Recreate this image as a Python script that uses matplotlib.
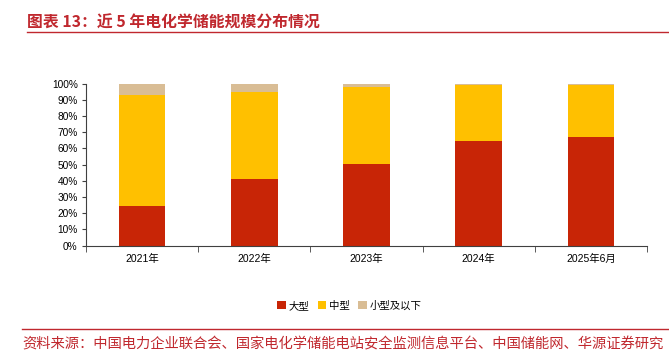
import matplotlib.pyplot as plt
import numpy as np

plt.rcParams['font.family'] = ['Liberation Sans', 'Noto Sans CJK SC', 'DejaVu Sans']

years = ['2021年', '2022年', '2023年', '2024年', '2025年6月']
large = [24.7, 41.2, 50.6, 64.6, 66.9]
medium = [68.1, 53.7, 47.5, 34.4, 32.3]
small = [7.2, 5.1, 1.9, 1.0, 0.8]

c_large = '#C82506'
c_mid = '#FFC000'
c_small = '#D9BD95'
red = '#C0282E'
cjk = ['Noto Sans CJK SC', 'DejaVu Sans']

fig = plt.figure(figsize=(6.69, 3.54), dpi=100)
ax = fig.add_axes([0.1286, 0.306, 0.8384, 0.4577])

x = np.arange(len(years))
ax.bar(x, large, width=0.415, color=c_large, label='大型')
ax.bar(x, medium, width=0.415, bottom=large, color=c_mid, label='中型')
ax.bar(x, small, width=0.415, bottom=np.array(large) + np.array(medium),
       color=c_small, label='小型及以下')

ax.set_xlim(-0.5, len(years) - 0.5)
ax.set_ylim(0, 100)
ax.set_yticks(np.arange(0, 101, 10))
ax.set_yticklabels([f'{v}%' for v in range(0, 101, 10)], fontsize=7.3)
ax.set_xticks(x)
ax.set_xticklabels(years, fontsize=7.5)
ax.tick_params(axis='x', length=0, pad=6)
ax.set_xticks(np.arange(-0.5, len(years)), minor=True)
ax.tick_params(axis='x', which='minor', length=4, color='#404040')
ax.tick_params(axis='y', length=3, color='#404040', pad=3)
for s in ['top', 'right']:
    ax.spines[s].set_visible(False)
ax.spines['left'].set_color('#404040')
ax.spines['bottom'].set_color('#404040')

ax.legend(loc='center', bbox_to_anchor=(0.5224, 0.1364), bbox_transform=fig.transFigure,
          ncol=3, frameon=False, fontsize=7.5, handlelength=0.8, handleheight=0.8,
          handletextpad=0.3, columnspacing=0.8)

fig.text(0.04, 0.936, '图表 13：近 5 年电化学储能规模分布情况', color=red,
         fontsize=11.4, fontweight='bold', va='center', family=cjk)
fig.add_artist(plt.Line2D([0.04, 1.0], [0.91, 0.91], color=red, lw=1))
fig.add_artist(plt.Line2D([0.033, 1.0], [0.072, 0.072], color=red, lw=1))
fig.text(0.033, 0.026, '资料来源：中国电力企业联合会、国家电化学储能电站安全监测信息平台、中国储能网、华源证券研究',
         color=red, fontsize=10.3, va='center', family=cjk)

fig.savefig('out.png', dpi=100)
